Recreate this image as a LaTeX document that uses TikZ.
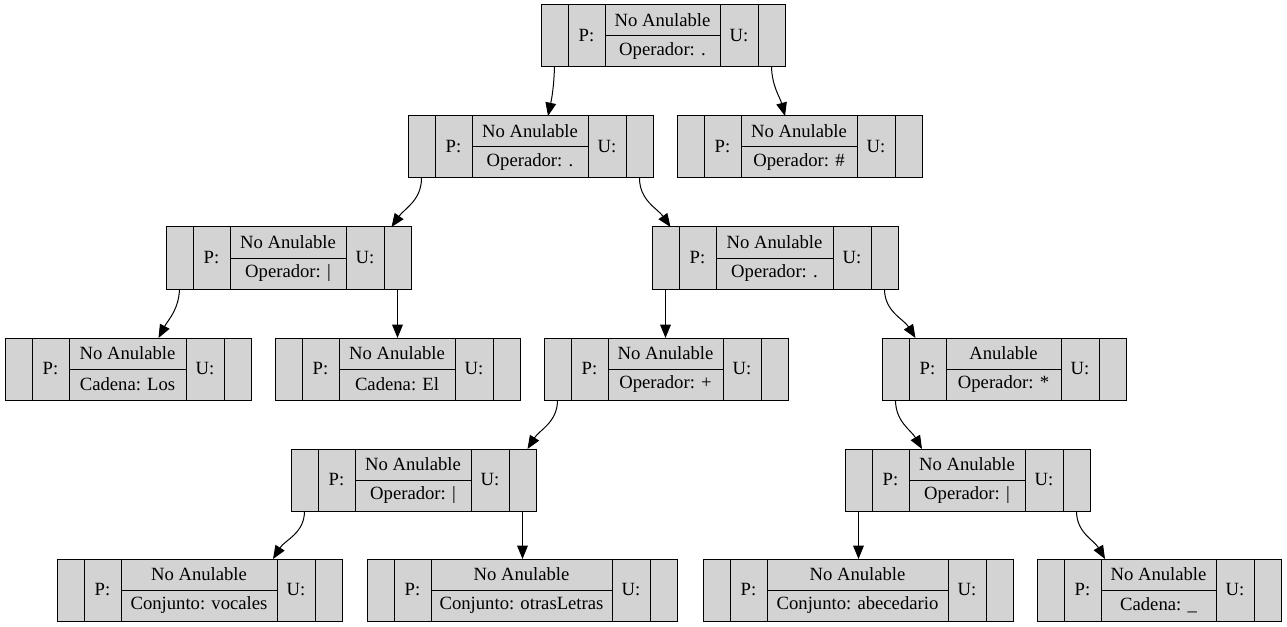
\documentclass[tikz,border=0pt]{standalone}
\usepackage{fontspec}
\setmainfont{Liberation Serif}
\usetikzlibrary{arrows.meta,positioning,calc}
\definecolor{cellGrey}{HTML}{D3D3D3}
\tikzset{
  cell/.style={draw=black,fill=cellGrey,line width=0.75pt,outer sep=0pt,
    inner sep=0pt,minimum height=46.5pt,font=\fontsize{14}{16}\selectfont},
  half cell/.style={cell,minimum height=23.25pt},
  tree edge/.style={-{Triangle[length=10pt,width=8pt]},draw=black,line width=0.75pt}
}
% record: name, left x, top y, centre width (px), upper text, lower text
\newcommand{\recordnode}[6]{%
  \node[cell,minimum width=20.25pt,anchor=north west] (#1-l) at (#2,#3) {};
  \node[cell,minimum width=27.75pt,right=0pt of #1-l] (#1-p) {P:};
  \node[half cell,minimum width=#4*0.75pt,anchor=north west] (#1-t) at (#1-p.north east) {#5};
  \node[half cell,minimum width=#4*0.75pt,below=0pt of #1-t] (#1-b) {#6};
  \node[cell,minimum width=28.5pt,anchor=north west] (#1-u) at (#1-t.north east) {U:};
  \node[cell,minimum width=20.25pt,right=0pt of #1-u] (#1-r) {};
}
\begin{document}
\begin{tikzpicture}[x=0.75pt,y=0.75pt]
  \useasboundingbox (0,0) rectangle (1287,-627);
  \recordnode{root}{541}{-5}{115}{No Anulable}{Operador: .}
  \recordnode{conc}{408}{-116}{116}{No Anulable}{Operador: .}
  \recordnode{fin}{677}{-116}{116}{No Anulable}{Operador: \#}
  \recordnode{orA}{166}{-227}{116}{No Anulable}{Operador: |}
  \recordnode{concB}{652}{-227}{117}{No Anulable}{Operador: .}
  \recordnode{los}{5}{-338}{117}{No Anulable}{Cadena: Los}
  \recordnode{el}{275}{-338}{116}{No Anulable}{Cadena: El}
  \recordnode{plus}{544}{-338}{115}{No Anulable}{Operador: +}
  \recordnode{star}{882}{-338}{115}{Anulable}{Operador: *}
  \recordnode{orB}{291}{-449}{116}{No Anulable}{Operador: |}
  \recordnode{orC}{845}{-449}{116}{No Anulable}{Operador: |}
  \recordnode{vocales}{57}{-559}{156}{No Anulable}{Conjunto: vocales}
  \recordnode{otras}{367}{-559}{181}{No Anulable}{Conjunto: otrasLetras}
  \recordnode{abc}{703}{-559}{181}{No Anulable}{Conjunto: abecedario}
  \recordnode{guion}{1037}{-559}{115}{No Anulable}{Cadena: \_}
  % connectors
  \draw[tree edge] (root-l.south) to[out=-92,in=78] ($(conc-t.north)+(18,0)$);
  \draw[tree edge] (root-r.south) to[out=-88,in=105] ($(fin-t.north)+(-14,0)$);
  \draw[tree edge] (conc-l.south) to[out=-90,in=55] ($(orA-r.north)+(-6,0)$);
  \draw[tree edge] (conc-r.south) to[out=-90,in=125] ($(concB-l.north)+(5,0)$);
  \draw[tree edge] (orA-l.south) to[out=-92,in=62] ($(los-t.north)+(31,0)$);
  \draw[tree edge] (orA-r.south) -- (orA-r.south |- el-t.north);
  \draw[tree edge] (concB-l.south) -- (concB-l.south |- plus-t.north);
  \draw[tree edge] (concB-r.south) to[out=-90,in=122] ($(star-p.north)+(-12,0)$);
  \draw[tree edge] (plus-l.south) to[out=-90,in=58] ($(orB-r.north)+(5,0)$);
  \draw[tree edge] (star-l.south) to[out=-90,in=120] ($(orC-t.north west)+(13,0)$);
  \draw[tree edge] (orB-l.south) to[out=-90,in=58] ($(vocales-t.north east)+(-4,0)$);
  \draw[tree edge] (orB-r.south) -- (orB-r.south |- otras-t.north);
  \draw[tree edge] (orC-l.south) -- (orC-l.south |- abc-t.north);
  \draw[tree edge] (orC-r.south) to[out=-90,in=120] ($(guion-t.north west)+(4,0)$);
\end{tikzpicture}
\end{document}
